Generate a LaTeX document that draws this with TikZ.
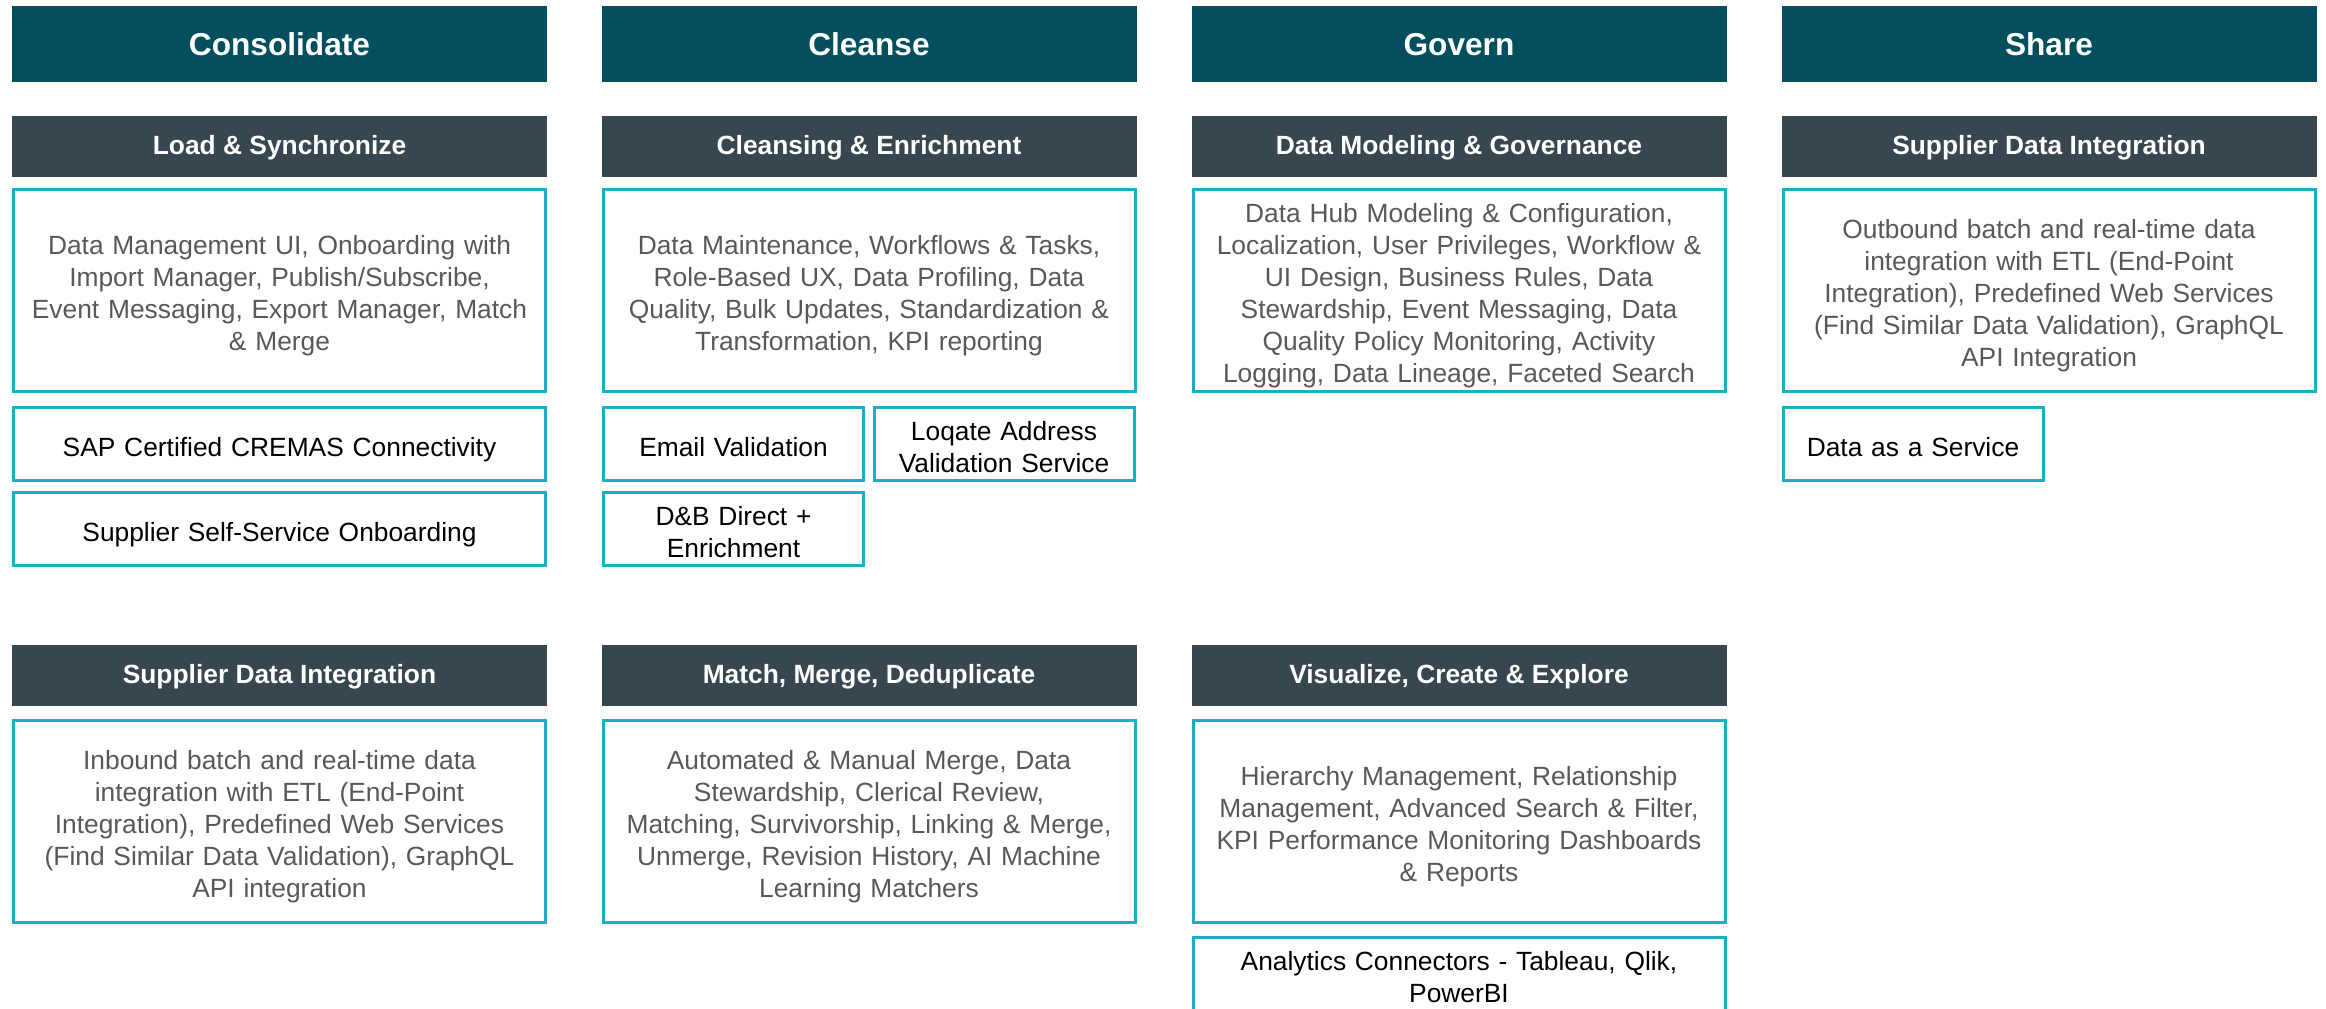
\documentclass[tikz,border=0pt]{standalone}
\usepackage{fontspec}
\setmainfont{Liberation Sans}
\definecolor{hdrteal}{HTML}{034F5E}
\definecolor{subslate}{HTML}{37464F}
\definecolor{edgecyan}{HTML}{1AAFC7}
\definecolor{bodygray}{HTML}{58585B}
% struts, so text sits like in the slide
\newcommand{\capstrut}{\rule[-0.29em]{0pt}{1.2em}}
\newcommand{\phasestrut}{\rule[-0.25em]{0pt}{1.25em}}
\newcommand{\boxstrut}{\rule[-0.21em]{0pt}{1.35em}}
\newcommand{\boxfoot}{\rule[-0.21em]{0pt}{0.21em}}
\begin{document}
\begin{tikzpicture}[x=0.1mm, y=-0.1mm,
	phase/.style={fill=hdrteal, text=white, inner sep=0, minimum width=53.5mm, minimum height=7.6mm, font=\fontsize{9}{11}\selectfont\bfseries, execute at begin node=\phasestrut},
	topic/.style={fill=subslate, text=white, inner sep=0, minimum width=53.5mm, minimum height=6.1mm, font=\fontsize{7.5}{9}\selectfont\bfseries, execute at begin node=\capstrut},
	detail/.style={draw=edgecyan, line width=0.3mm, text=bodygray, inner sep=0, align=center, text width=52mm, minimum width=53.2mm, minimum height=20.2mm, font=\fontsize{7.5}{9.1}\selectfont, execute at begin node=\boxstrut, execute at end node=\boxfoot},
	addon/.style={draw=edgecyan, line width=0.3mm, text=black, inner sep=0, align=center, text width=52mm, minimum width=53.2mm, minimum height=7.3mm, font=\fontsize{7.5}{9.1}\selectfont, execute at begin node=\boxstrut, execute at end node=\boxfoot},
	halfaddon/.style={addon, text width=25mm, minimum width=26mm}]
	\useasboundingbox (0,0) rectangle (2326,1008);
	\clip (0,0) rectangle (2326,1008);
	% phase headers
	\node[phase] (consolidate) at (279.5,44) {Consolidate};
	\node[phase] (cleanse) at (869,44) {Cleanse};
	\node[phase] (govern) at (1459,44) {Govern};
	\node[phase] (share) at (2049,44) {Share};
	% first row
	\node[topic] (load) at (279.5,146.5) {Load \& Synchronize};
	\node[topic] (cleansing) at (869,146.5) {Cleansing \& Enrichment};
	\node[topic] (modeling) at (1459,146.5) {Data Modeling \& Governance};
	\node[topic] (outbound) at (2049,146.5) {Supplier Data Integration};
	\node[detail] (loaddet) at (279.5,290.5) {Data Management UI, Onboarding with\\Import Manager, Publish/Subscribe,\\Event Messaging, Export Manager, Match\\\& Merge};
	\node[detail] (cleansingdet) at (869,290.5) {Data Maintenance, Workflows \& Tasks,\\Role-Based UX, Data Profiling, Data\\Quality, Bulk Updates, Standardization \&\\Transformation, KPI reporting};
	\node[detail] (modelingdet) at (1459,290.5) {Data Hub Modeling \& Configuration,\\Localization, User Privileges, Workflow \&\\UI Design, Business Rules, Data\\Stewardship, Event Messaging, Data\\Quality Policy Monitoring, Activity\\Logging, Data Lineage, Faceted Search};
	\node[detail] (outbounddet) at (2049,290.5) {Outbound batch and real-time data\\integration with ETL (End-Point\\Integration), Predefined Web Services\\(Find Similar Data Validation), GraphQL\\API Integration};
	% add-ons
	\node[addon] (sap) at (279.5,444) {SAP Certified CREMAS Connectivity};
	\node[addon] (selfservice) at (279.5,529) {Supplier Self-Service Onboarding};
	\node[halfaddon] (email) at (733.5,444) {Email Validation};
	\node[halfaddon] (loqate) at (1004,444) {Loqate Address\\Validation Service};
	\node[halfaddon] (dnb) at (733.5,529) {D\&B Direct +\\Enrichment};
	\node[halfaddon] (daas) at (1913,444) {Data as a Service};
	% second row
	\node[topic] (inbound) at (279.5,675.5) {Supplier Data Integration};
	\node[topic] (matching) at (869,675.5) {Match, Merge, Deduplicate};
	\node[topic] (visualize) at (1459,675.5) {Visualize, Create \& Explore};
	\node[detail] (inbounddet) at (279.5,821) {Inbound batch and real-time data\\integration with ETL (End-Point\\Integration), Predefined Web Services\\(Find Similar Data Validation), GraphQL\\API integration};
	\node[detail] (matchingdet) at (869,821) {Automated \& Manual Merge, Data\\Stewardship, Clerical Review,\\Matching, Survivorship, Linking \& Merge,\\Unmerge, Revision History, AI Machine\\Learning Matchers};
	\node[detail] (visualizedet) at (1459,821) {Hierarchy Management, Relationship\\Management, Advanced Search \& Filter,\\KPI Performance Monitoring Dashboards\\\& Reports};
	\node[addon] (analytics) at (1459,974) {Analytics Connectors - Tableau, Qlik,\\PowerBI};
\end{tikzpicture}
\end{document}
